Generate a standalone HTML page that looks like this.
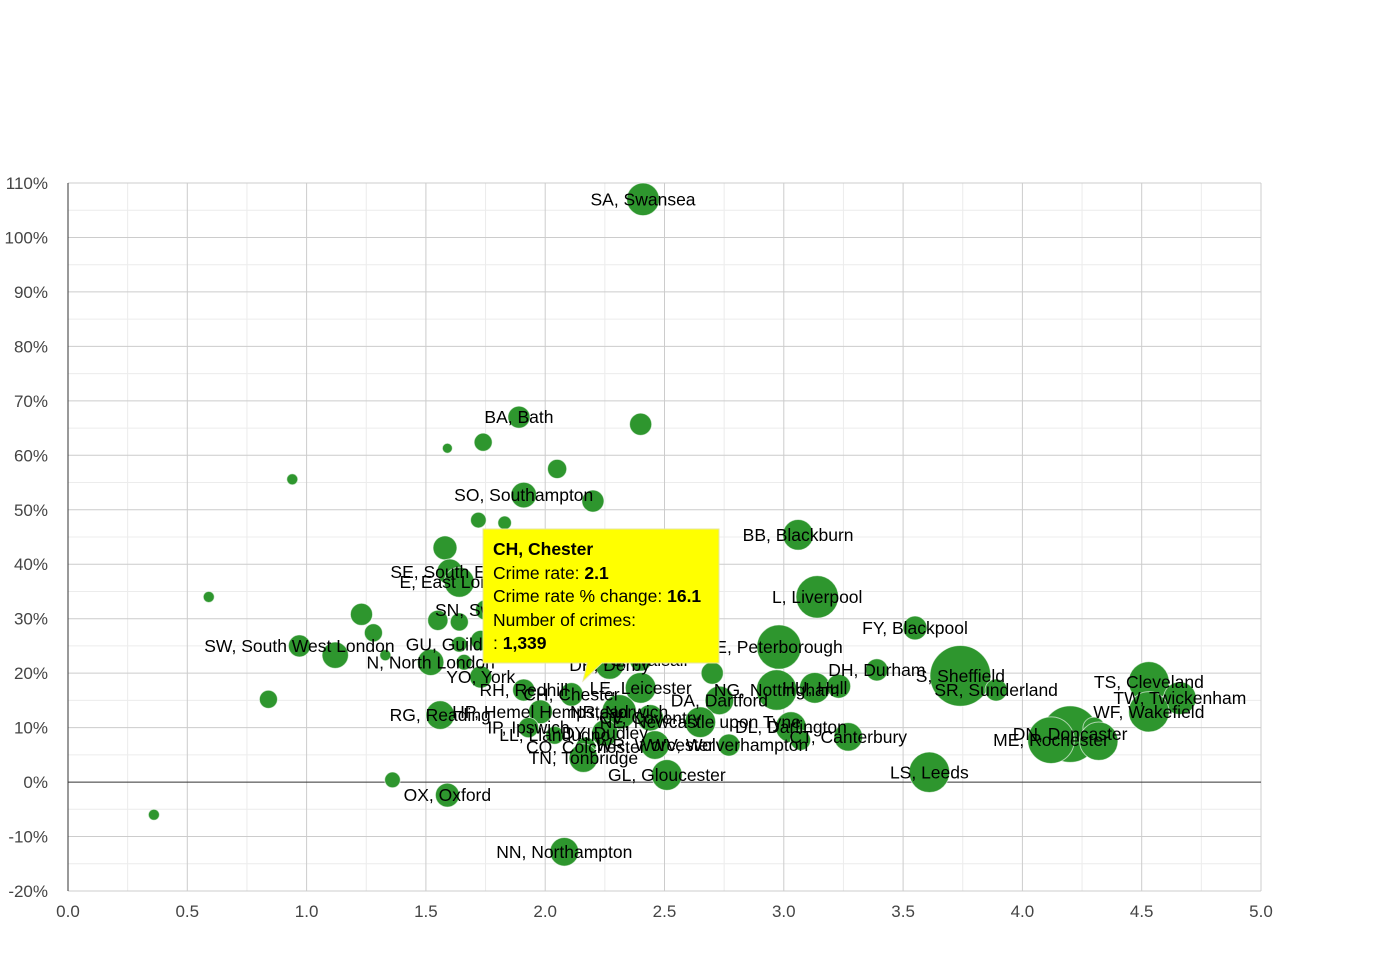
<!DOCTYPE html>
<html><head><meta charset="utf-8"><style>
html,body{margin:0;padding:0;background:#fff;}
svg{display:block;font-family:"Liberation Sans",Arial,sans-serif;}
</style></head><body>
<svg id="chart" width="1390" height="980">
<g id="grid"></g>
<g id="axes"></g>
<g id="bubbles"></g>
<g id="labels"></g>
<g id="tooltip">
<path d="M483,529 H719 V663 H602 L583,681 L587,663 H483 Z" fill="#ffff00" stroke="#e6e6a0" stroke-width="1"/>
<text x="493" y="555" font-size="17.5" font-weight="bold" fill="#000">CH, Chester</text>
<text x="493" y="579" font-size="17.5" fill="#000">Crime rate: <tspan font-weight="bold">2.1</tspan></text>
<text x="493" y="602" font-size="17.5" fill="#000">Crime rate % change: <tspan font-weight="bold">16.1</tspan></text>
<text x="493" y="626" font-size="17.5" fill="#000">Number of crimes:</text>
<text x="493" y="649" font-size="17.5" fill="#000">: <tspan font-weight="bold">1,339</tspan></text>
</g>
</svg>
<script>
const xTicks=[0,0.5,1.0,1.5,2.0,2.5,3.0,3.5,4.0,4.5,5.0];
const yTicks=[-20,-10,0,10,20,30,40,50,60,70,80,90,100,110];
const labels=["SA, Swansea","BA, Bath","","","","","","SO, Southampton","","","","BB, Blackburn","","SE, South East","E, East London","","L, Liverpool","","","","SN, Swindon","","FY, Blackpool","GU, Guildford","","E, Peterborough","SW, South West London","","","N, North London","","YO, York","DH, Durham","S, Sheffield","","TS, Cleveland","TW, Twickenham","SR, Sunderland","WF, Wakefield","DN, Doncaster","ME, Rochester","","","LS, Leeds","CT, Canterbury","HU, Hull","","NG, Nottingham","DA, Dartford","DL, Darlington","WV, Wolverhampton","","NE, Newcastle upon Tyne","GL, Gloucester","CH, Chester","RH, Redhill","LE, Leicester","DE, Derby","WS, Walsall","NR, Norwich","CV, Coventry","HP, Hemel Hempstead","RG, Reading","IP, Ipswich","LL, Llandudno","DY, Dudley","CO, Colchester","TN, Tonbridge","WR, Worcester","OX, Oxford","","","NN, Northampton",""];
const rates=[2.41,1.89,2.40,1.59,1.74,2.05,0.94,1.91,2.20,1.72,1.83,3.06,1.58,1.60,1.64,0.59,3.14,1.23,1.55,1.64,1.75,1.28,3.55,1.64,1.73,2.98,0.97,1.12,1.33,1.52,1.66,1.73,3.39,3.74,2.70,4.53,4.66,3.89,4.53,4.20,4.12,4.30,4.32,3.61,3.27,3.13,3.23,2.97,2.73,3.03,2.77,3.07,2.65,2.51,2.11,1.91,2.40,2.27,2.40,2.31,2.44,1.98,1.56,1.93,2.04,2.25,2.17,2.16,2.46,1.59,1.36,0.84,2.08,0.36];
const changes=[107,67,65.7,61.3,62.4,57.5,55.6,52.7,51.6,48.1,47.6,45.4,43,38.6,36.7,34,34,30.8,29.7,29.4,31.6,27.4,28.3,25.3,26,24.8,25,23.3,23.3,22,22,19.3,20.6,19.5,20,18.4,15.4,16.9,12.9,8.8,7.7,9.9,7.5,1.8,8.3,17.3,17.6,16.9,15,10.1,6.8,7.7,11,1.3,16.1,16.9,17.3,21.5,22.4,12.9,11.8,12.9,12.3,10,8.6,9,6.4,4.4,6.8,-2.4,0.4,15.2,-12.8,-6];
const crimes=[2600,1200,1200,150,800,900,300,1600,1200,600,450,2300,1400,1600,2200,300,4400,1200,1000,800,1000,800,1400,600,1000,4800,1200,1700,300,1700,600,1200,1200,9000,1200,4000,2600,1200,4000,7800,5300,1200,3600,4000,2000,2300,1400,4000,2000,2300,1200,1000,2300,2300,1339,1200,2300,2000,1200,2900,1700,1400,2000,1000,800,1700,1000,2000,2000,1400,600,800,2000,300];

const NS="http://www.w3.org/2000/svg";
const X0=68,X1=1261,Y0=891,Y1=183;
function xs(v){return X0+(v-0)/(5-0)*(X1-X0);}
function ys(v){return Y0-(v+20)/(130)*(Y0-Y1);}
function rs(n){return Math.sqrt(n)*0.32;}
function mk(tag,attrs,parent){const e=document.createElementNS(NS,tag);for(const k in attrs)e.setAttribute(k,attrs[k]);parent.appendChild(e);return e;}
const grid=document.getElementById('grid'),axes=document.getElementById('axes'),bub=document.getElementById('bubbles'),lab=document.getElementById('labels');
for(let v=0.25;v<5;v+=0.5){const l=mk('line',{x1:xs(v),x2:xs(v),y1:Y1,y2:Y0,stroke:'#ececec'},grid);

}
for(let v=-15;v<110;v+=10){const l=mk('line',{x1:X0,x2:X1,y1:ys(v),y2:ys(v),stroke:'#ececec'},grid);

}
xTicks.forEach(v=>{const l=mk('line',{x1:xs(v),x2:xs(v),y1:Y1,y2:Y0,stroke:'#cccccc'},grid);


const t=mk('text',{x:xs(v),y:Y0+26,'text-anchor':'middle','font-size':17,fill:'#444'},axes);t.textContent=v.toFixed(1);

});
yTicks.forEach(v=>{const l=mk('line',{x1:X0,x2:X1,y1:ys(v),y2:ys(v),stroke:v===0?'#333':'#cccccc'},grid);


const t=mk('text',{x:48,y:ys(v)+6,'text-anchor':'end','font-size':17,fill:'#444'},axes);t.textContent=v+'%';

});
const ax=mk('line',{x1:X0,x2:X0,y1:Y1,y2:Y0,stroke:'#333'},axes);


rates.forEach((r,i)=>{const c=mk('circle',{cx:xs(r),cy:ys(changes[i]),r:Math.max(5,rs(crimes[i])),fill:'#2e962e',stroke:'#fff','stroke-width':1,'stroke-opacity':0.6},bub);


if(labels[i]){const t=mk('text',{x:xs(r),y:ys(changes[i])+6,'text-anchor':'middle','font-size':17.5,fill:'#000'},lab);t.textContent=labels[i];

}});
</script>
</body></html>
